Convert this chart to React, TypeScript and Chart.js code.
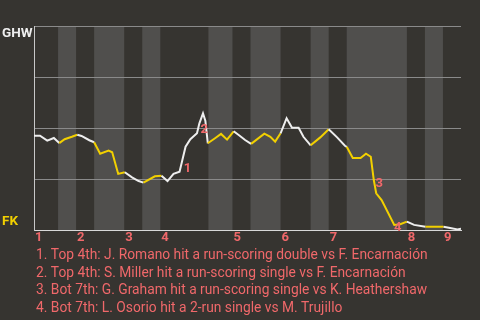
import { useEffect, useRef } from "react";
import { Chart, registerables } from "chart.js";
Chart.register(...registerables);

// plate-appearance index (x) and win probability for the top team (y, 0 = FK, 1 = GHW)
const paX = [0, 1, 2.2, 3.3, 4.2, 5.1, 6.3, 7.2, 7.9, 9.2, 10, 11, 12.4, 13, 14, 15.1, 16.3, 17.4, 18.2, 20.1, 21.2, 22.2, 23.2, 24.2, 24.6, 25.2, 26, 27.1, 27.5, 28.1, 28.5, 28.9, 30.1, 31.1, 32.1, 33.2, 34.2, 35.1, 36.1, 38.3, 39.3, 40.1, 41, 42, 42.9, 44, 44.8, 46, 47.6, 49, 50.4, 51.7, 52, 53, 54.3, 55.2, 56, 56.5, 56.9, 57.8, 59.9, 60.9, 62, 63.2, 65.1, 68.1, 69.2, 70.4, 71];
const winProb = [0.462, 0.462, 0.438, 0.451, 0.426, 0.445, 0.457, 0.467, 0.461, 0.44, 0.43, 0.374, 0.389, 0.381, 0.275, 0.283, 0.258, 0.24, 0.232, 0.263, 0.266, 0.24, 0.275, 0.286, 0.335, 0.408, 0.445, 0.474, 0.523, 0.572, 0.534, 0.425, 0.45, 0.471, 0.443, 0.484, 0.462, 0.441, 0.422, 0.472, 0.457, 0.433, 0.474, 0.548, 0.501, 0.501, 0.457, 0.415, 0.454, 0.494, 0.454, 0.413, 0.408, 0.353, 0.353, 0.374, 0.359, 0.245, 0.18, 0.147, 0.025, 0.028, 0.041, 0.025, 0.016, 0.016, 0.01, 0.003, 0.006];

const inningStarts = [0, 7, 15, 21, 33, 41, 49, 62, 68];
const bottomStarts = [4, 10, 18, 29, 36, 46, 52, 65];
const gameEnd = 71;
const inningLabels = ["1", "2", "3", "4", "5", "6", "7", "8", "9"];

const topTeam = "GHW";
const bottomTeam = "FK";

const eventLabels = ["1", "2", "3", "4"];
const eventX = [25.5, 28.3, 57.4, 60.5];
const eventY = [0.302, 0.489, 0.229, 0.013];
const eventNotes = [
  "1. Top 4th: J. Romano hit a run-scoring double vs F. Encarnación",
  "2. Top 4th: S. Miller hit a run-scoring single vs F. Encarnación",
  "3. Bot 7th: G. Graham hit a run-scoring single vs K. Heathershaw",
  "4. Bot 7th: L. Osorio hit a 2-run single vs M. Trujillo",
];

const BG = "#363430";
const BAND = "#504f4d";
const WHITE = "#eeeeee";
const YELLOW = "#f2d000";
const PINK = "#f0686a";
const FONT = "Roboto, 'Noto Sans', sans-serif";

const isBottomHalf = (x: number) => {
  for (let i = 0; i < bottomStarts.length; i++) {
    const end = i + 1 < inningStarts.length ? inningStarts[i + 1] : gameEnd;
    if (x >= bottomStarts[i] && x < end) return true;
  }
  return false;
};

const decorPlugin = {
  id: "decor",
  beforeDraw(chart: any) {
    const { ctx, chartArea, scales } = chart;
    const xs = scales.x;
    ctx.save();
    ctx.fillStyle = BAND;
    bottomStarts.forEach((s, i) => {
      const end = i + 1 < inningStarts.length ? inningStarts[i + 1] : gameEnd;
      const x0 = xs.getPixelForValue(s);
      const x1 = xs.getPixelForValue(end);
      ctx.fillRect(x0, chartArea.top, x1 - x0, chartArea.bottom - chartArea.top);
    });
    ctx.restore();
  },
  afterDraw(chart: any) {
    const { ctx, chartArea, scales } = chart;
    const xs = scales.x;
    const ys = scales.y;
    ctx.save();
    // team labels
    ctx.font = `bold 13.5px ${FONT}`;
    ctx.textAlign = "left";
    ctx.textBaseline = "middle";
    ctx.fillStyle = WHITE;
    ctx.fillText(topTeam, 2, chartArea.top + 8);
    ctx.fillStyle = YELLOW;
    ctx.fillText(bottomTeam, 2, chartArea.bottom - 8.5);
    // inning labels
    ctx.fillStyle = PINK;
    ctx.font = `bold 13px ${FONT}`;
    inningLabels.forEach((l, i) => {
      ctx.fillText(l, xs.getPixelForValue(inningStarts[i]) + 1, chartArea.bottom + 8);
    });
    // event markers
    ctx.textAlign = "center";
    eventLabels.forEach((l, i) => {
      ctx.fillText(l, xs.getPixelForValue(eventX[i]), ys.getPixelForValue(eventY[i]));
    });
    // notes
    ctx.font = `13.8px ${FONT}`;
    ctx.textAlign = "left";
    ctx.textBaseline = "alphabetic";
    eventNotes.forEach((n, i) => {
      ctx.fillText(n, 36, chartArea.bottom + 29 + i * 17.7);
    });
    ctx.restore();
  },
};

export default function App() {
  const ref = useRef<HTMLCanvasElement>(null);
  useEffect(() => {
    document.body.style.margin = "0";
    document.body.style.background = BG;
    const chart = new Chart(ref.current!, {
      type: "line",
      data: {
        datasets: [
          {
            data: paX.map((x, i) => ({ x, y: winProb[i] })),
            borderWidth: 2,
            borderColor: WHITE,
            pointRadius: 0,
            tension: 0,
            segment: {
              borderColor: (c: any) =>
                isBottomHalf((c.p0.parsed.x + c.p1.parsed.x) / 2) ? YELLOW : WHITE,
            },
          },
        ],
      },
      options: {
        animation: false,
        responsive: false,
        maintainAspectRatio: false,
        layout: { padding: { left: 34, top: 26, right: 19, bottom: 90 } },
        plugins: { legend: { display: false }, tooltip: { enabled: false } },
        scales: {
          x: {
            type: "linear",
            min: 0,
            max: gameEnd,
            ticks: { display: false },
            grid: { display: false, drawTicks: false },
            border: { display: true, color: "#d8d8d8", width: 1 },
          },
          y: {
            min: 0,
            max: 1,
            ticks: { display: false, stepSize: 0.25 },
            grid: { color: "#8a8a8a", lineWidth: 1, drawTicks: false },
            border: { display: true, color: "#c8c8c8", width: 1 },
          },
        },
      },
      plugins: [decorPlugin],
    });
    return () => chart.destroy();
  }, []);
  return (
    <div style={{ width: 480, height: 320, background: BG }}>
      <canvas ref={ref} width={480} height={320} style={{ display: "block" }} />
    </div>
  );
}
